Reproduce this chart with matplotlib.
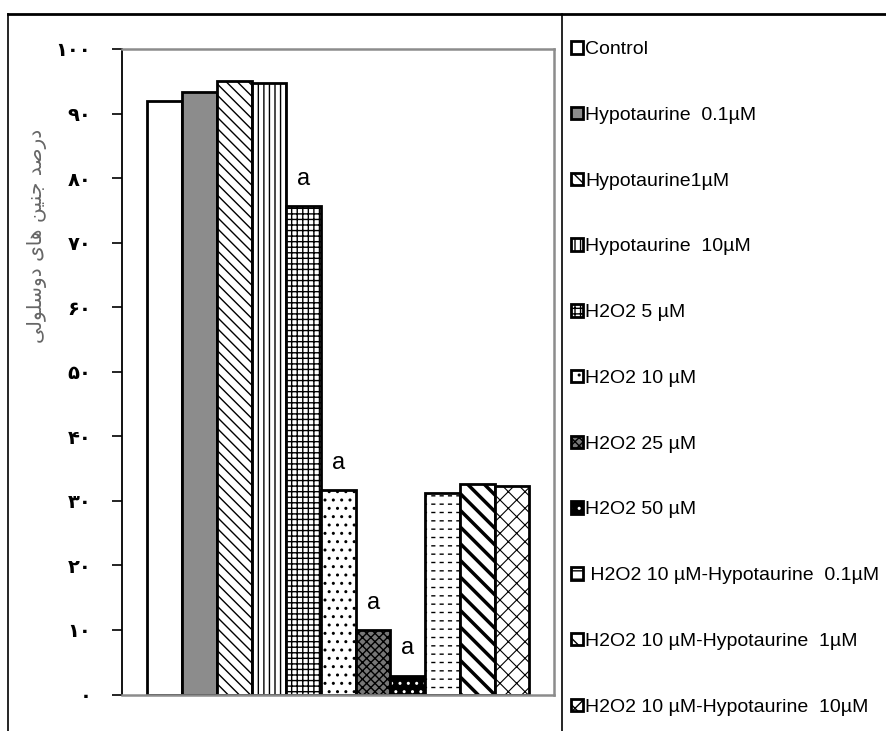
import matplotlib
matplotlib.use('Agg')
import matplotlib.pyplot as plt
from matplotlib.lines import Line2D

# groups, in the order they are plotted
groups = ['Control', 'Hypotaurine  0.1µM', 'Hypotaurine1µM', 'Hypotaurine  10µM',
          'H2O2 5 µM', 'H2O2 10 µM', 'H2O2 25 µM', 'H2O2 50 µM',
          ' H2O2 10 µM-Hypotaurine  0.1µM', 'H2O2 10 µM-Hypotaurine  1µM',
          'H2O2 10 µM-Hypotaurine  10µM']
# percent of two-cell embryos
values = [92.0, 93.3, 95.0, 94.8, 75.7, 31.7, 10.0, 2.9, 31.2, 32.6, 32.3]
marks = ['', '', '', '', 'a', 'a', 'a', 'a', '', '', '']

yticks = [0, 10, 20, 30, 40, 50, 60, 70, 80, 90, 100]
ytick_labels = ['۰', '۱۰', '۲۰', '۳۰', '۴۰', '۵۰', '۶۰', '۷۰', '۸۰', '۹۰', '۱۰۰']
ylabel = 'درصد جنین های دوسلولی'

# fill / hatch for every bar
styles = [
    dict(fc='white', hatch=None),
    dict(fc='#8c8c8c', hatch=None),
    dict(fc='white', hatch='\\\\\\'),
    dict(fc='white', hatch='|||'),
    dict(fc='white', hatch='+++'),
    dict(fc='white', hatch='..'),
    dict(fc='#777777', hatch='xxxx'),
    dict(fc='black', hatch='..', hc='white'),
    dict(fc='white', hatch='--', dashed=True),
    dict(fc='white', hatch='\\\\', hlw=2.5),
    dict(fc='white', hatch='xx', hlw=0.8),
]

# matplotlib does no arabic shaping, so pick the joined glyph forms by hand
# (isolated, final, initial, medial)
forms = {
    'د': ('\ufea9', '\ufeaa', None, None),
    'ر': ('\ufead', '\ufeae', None, None),
    'ا': ('\ufe8d', '\ufe8e', None, None),
    'و': ('\ufeed', '\ufeee', None, None),
    'ص': ('\ufeb9', '\ufeba', '\ufebb', '\ufebc'),
    'ج': ('\ufe9d', '\ufe9e', '\ufe9f', '\ufea0'),
    'ن': ('\ufee5', '\ufee6', '\ufee7', '\ufee8'),
    'ی': ('\ufeef', '\ufef0', '\ufef3', '\ufef4'),
    'ه': ('\ufee9', '\ufeea', '\ufeeb', '\ufeec'),
    'س': ('\ufeb1', '\ufeb2', '\ufeb3', '\ufeb4'),
    'ل': ('\ufedd', '\ufede', '\ufedf', '\ufee0'),
}


def shape(text):
    out = []
    for word in text.split(' '):
        s = ''
        for i, ch in enumerate(word):
            iso, fin, ini, med = forms[ch]
            after = i > 0 and forms[word[i - 1]][2] is not None
            before = i < len(word) - 1 and ini is not None
            if after and before:
                s += med
            elif after:
                s += fin
            elif before:
                s += ini
            else:
                s += iso
        out.append(s)
    return ' '.join(out)[::-1]


plt.rcParams['font.family'] = ['Liberation Sans', 'DejaVu Sans']

fig = plt.figure(figsize=(8.87, 7.31), dpi=100)
ax = fig.add_axes([0.1375, 0.0499, 0.4871, 0.8831])

handles = []
for i, (v, st) in enumerate(zip(values, styles)):
    layers = []
    with plt.rc_context({'hatch.linewidth': st.get('hlw', 1.0)}):
        b = ax.bar(i, v, width=1.0, color=st['fc'], edgecolor=st.get('hc', 'black'),
                   hatch=st['hatch'], linewidth=0)
    layers.append(b[0])
    if st.get('dashed'):
        # white vertical strokes cut the horizontal hatch into dashes
        with plt.rc_context({'hatch.linewidth': 3.0}):
            b = ax.bar(i, v, width=1.0, fill=False, edgecolor='white', hatch='||',
                       linewidth=0)
    o = ax.bar(i, v, width=1.0, fill=False, edgecolor='black', linewidth=2)
    layers.append(o[0])
    handles.append(tuple(layers))
    if marks[i]:
        ax.text(i, v + 3.3, marks[i], ha='center', va='baseline', fontsize=17)

ax.set_xlim(-1.23, 11.21)
ax.set_ylim(0, 100)
ax.set_xticks([])
ax.set_yticks(yticks)
ax.set_yticklabels(ytick_labels, family=['DejaVu Sans'], fontweight='bold', fontsize=14)
ax.tick_params(axis='y', direction='out', length=7, width=1.2, pad=15)

for side in ['top', 'right', 'bottom']:
    ax.spines[side].set_color('#8c8c8c')
    ax.spines[side].set_linewidth(1.8)
ax.spines['left'].set_color('black')
ax.spines['left'].set_linewidth(1.3)

fig.text(37 / 887, 1 - 236 / 731, shape(ylabel), rotation=90, ha='center', va='center',
         fontsize=14.5, color='#666666', family=['DejaVu Sans'])

leg = ax.legend(handles, groups, loc='upper left', bbox_to_anchor=(571 / 887, 1 - 41 / 731),
                bbox_transform=fig.transFigure, frameon=False, fontsize=14,
                handlelength=0.62, handleheight=0.62, handletextpad=0.12,
                labelspacing=2.50, borderpad=0, borderaxespad=0)

# outer frame and the rule left of the legend
fig.add_artist(Line2D([8 / 887, 1], [1 - 14 / 731] * 2, color='black', lw=2,
                      transform=fig.transFigure))
fig.add_artist(Line2D([8 / 887] * 2, [0, 1 - 14 / 731], color='black', lw=1.2,
                      transform=fig.transFigure))
fig.add_artist(Line2D([562 / 887] * 2, [0, 1 - 14 / 731], color='black', lw=1.2,
                      transform=fig.transFigure))

fig.savefig('out.png', dpi=100)
